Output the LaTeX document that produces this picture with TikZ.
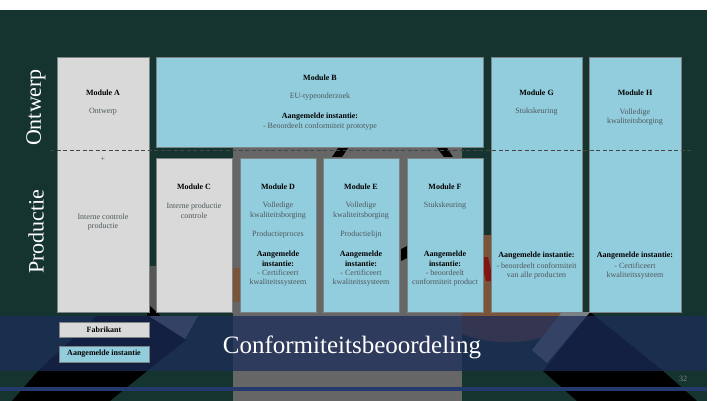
\documentclass[tikz,border=0pt]{standalone}
\usepackage{fontspec}
\setmainfont{Liberation Serif}
\usetikzlibrary{fit}
\definecolor{bggreen}{RGB}{22,52,47}
\definecolor{boxblue}{RGB}{146,205,221}
\definecolor{boxgray}{RGB}{217,217,217}
\definecolor{boxborder}{RGB}{125,130,130}
\definecolor{navy}{RGB}{28,44,90}
\definecolor{lineblue}{RGB}{36,57,108}
\definecolor{midgray}{RGB}{102,102,102}
\definecolor{brownish}{RGB}{122,85,57}
\definecolor{darkred}{RGB}{130,20,20}
\definecolor{lightband}{RGB}{122,130,136}
\definecolor{bodytext}{RGB}{78,88,92}
\definecolor{pagegray}{RGB}{120,140,135}
\definecolor{dashcol}{RGB}{70,70,70}
\tikzset{
  modbox/.style={draw=boxborder, line width=0.8pt, inner sep=0pt},
  bluebox/.style={modbox, fill=boxblue},
  graybox/.style={modbox, fill=boxgray},
  hdr/.style={font=\fontsize{8}{9.6}\selectfont\bfseries, text=black, align=center, inner sep=0pt},
  body/.style={font=\fontsize{8}{9.6}\selectfont, text=bodytext, align=center, inner sep=0pt},
  side/.style={font=\fontsize{22}{24}\selectfont, text=white, rotate=90, inner sep=0pt},
  dashline/.style={draw=dashcol, line width=0.6pt, dash pattern=on 4pt off 2.5pt},
}
\begin{document}
\begin{tikzpicture}[x=1pt,y=-1pt]
\useasboundingbox (0,0) rectangle (715,401);
% ---------- background ----------
\fill[white] (0,0) rectangle (715,401);
\fill[bggreen] (0,10) rectangle (707,401);
\fill[midgray] (233,147) rectangle (462,401);
\fill[midgray!110] (149,266) rectangle (156,312);
\fill[brownish] (233,268) rectangle (240,302);
\fill[brownish] (483,235) rectangle (491,316);
\fill[brownish] (462,312) rectangle (590,316);
\fill[brownish] (462,316) -- (562,316) -- (552,334) .. controls (520,346) and (490,344) .. (462,334) -- cycle;
\fill[darkred] (483,257) -- (488,257) -- (491,270) -- (491,281) -- (486,281) -- (483,268) -- cycle;
% black shapes
\fill[black] (97,316) -- (147,316) -- (147,303) -- (186,340) -- (147,371) -- (110,401) -- (12,401) -- (38,371) -- cycle;
\fill[black] (590,312) -- (663,371) -- (697,401) -- (577,401) -- (543,371) -- cycle;
\fill[black] (338,148) -- (348,148) -- (342,157) -- (332,157) -- cycle;
\fill[black] (437,148) -- (447,148) -- (453,157) -- (444,157) -- cycle;
\fill[black] (401,249) -- (407,246) -- (407,258) -- (401,261) -- cycle;
% lighter bands
\fill[lightband] (149,316) -- (198,316) -- (185,339) -- cycle;
\fill[lightband] (562,312) -- (590,312) -- (547,363) -- (532,350) -- cycle;
% banner and line
\fill[navy, fill opacity=0.74] (0,316) rectangle (707,371);
\fill[lineblue] (0,387) rectangle (707,391);
% ---------- module boxes ----------
\node[graybox, fit={(57,57)(149,312)}] (A) {};
\node[bluebox, fit={(156,57)(483,147)}] (B) {};
\node[bluebox, fit={(491,57)(582,312)}] (G) {};
\node[bluebox, fit={(589,57)(681,312)}] (H) {};
\node[graybox, fit={(156,158)(232,312)}] (C) {};
\node[bluebox, fit={(240,158)(316,312)}] (D) {};
\node[bluebox, fit={(323,158)(399,312)}] (E) {};
\node[bluebox, fit={(407,158)(483,312)}] (F) {};
% dashed divider
\coordinate (dashL) at (50,150);
\coordinate (dashR) at (693,150);
\draw[dashline] (dashL) -- (dashR);
% ---------- side labels ----------
\node[side] (ontw) at (36,107.5) {Ontwerp};
\node[side] (prod) at (36,231.5) {Productie};
% ---------- module texts ----------
\node[hdr] (A1) at (103,93) {Module A};
\node[body] (A2) at (103,112) {Ontwerp};
\node[body] (A3) at (103,159) {+};
\node[body] (A4) at (103,222) {Interne controle\\productie};
\node[hdr] (B1) at (320,78) {Module B};
\node[body] (B2) at (320,97) {EU-typeonderzoek};
\node[hdr] (B3) at (320,117) {Aangemelde instantie:};
\node[body] (B4) at (320,127) {- Beoordeelt conformiteit prototype};
\node[hdr] (G1) at (536.5,93) {Module G};
\node[body] (G2) at (536.5,112) {Stukskeuring};
\node[hdr] (G3) at (536.5,256) {Aangemelde instantie:};
\node[body] (G4) at (536.5,271) {- beoordeelt conformiteit\\van alle producten};
\node[hdr] (H1) at (635,93) {Module H};
\node[body] (H2) at (635,117) {Volledige\\kwaliteitsborging};
\node[hdr] (H3) at (635,256) {Aangemelde instantie:};
\node[body] (H4) at (635,271) {- Certificeert\\kwaliteitssysteem};
\node[hdr] (C1) at (194,187) {Module C};
\node[body] (C2) at (194,210.5) {Interne productie\\controle};
\node[hdr] (D1) at (278,187) {Module D};
\node[body] (D2) at (278,210.5) {Volledige\\kwaliteitsborging};
\node[body] (D3) at (278,235) {Productieproces};
\node[hdr] (D4) at (278,259) {Aangemelde\\instantie:};
\node[body] (D5) at (278,278) {- Certificeert\\kwaliteitssysteem};
\node[hdr] (E1) at (361,187) {Module E};
\node[body] (E2) at (361,210.5) {Volledige\\kwaliteitsborging};
\node[body] (E3) at (361,235) {Productielijn};
\node[hdr] (E4) at (361,259) {Aangemelde\\instantie:};
\node[body] (E5) at (361,278) {- Certificeert\\kwaliteitssysteem};
\node[hdr] (F1) at (445,187) {Module F};
\node[body] (F2) at (445,206) {Stukskeuring};
\node[hdr] (F4) at (445,259) {Aangemelde\\instantie:};
\node[body] (F5) at (445,278) {- beoordeelt\\conformiteit product};
% ---------- legend ----------
\node[graybox, hdr, minimum width=90pt, minimum height=15pt] (fab) at (104,329.5) {Fabrikant};
\node[bluebox, hdr, minimum width=90pt, minimum height=16pt] (ai) at (104,354) {Aangemelde instantie};
% ---------- title and page ----------
\node[font=\fontsize{25}{28}\selectfont, text=white, anchor=base, inner sep=0pt] (title) at (352,353) {Conformiteitsbeoordeling};
\node[font=\fontsize{8}{9}\selectfont, text=pagegray, inner sep=0pt] (pg) at (683,379) {32};
\end{tikzpicture}
\end{document}
